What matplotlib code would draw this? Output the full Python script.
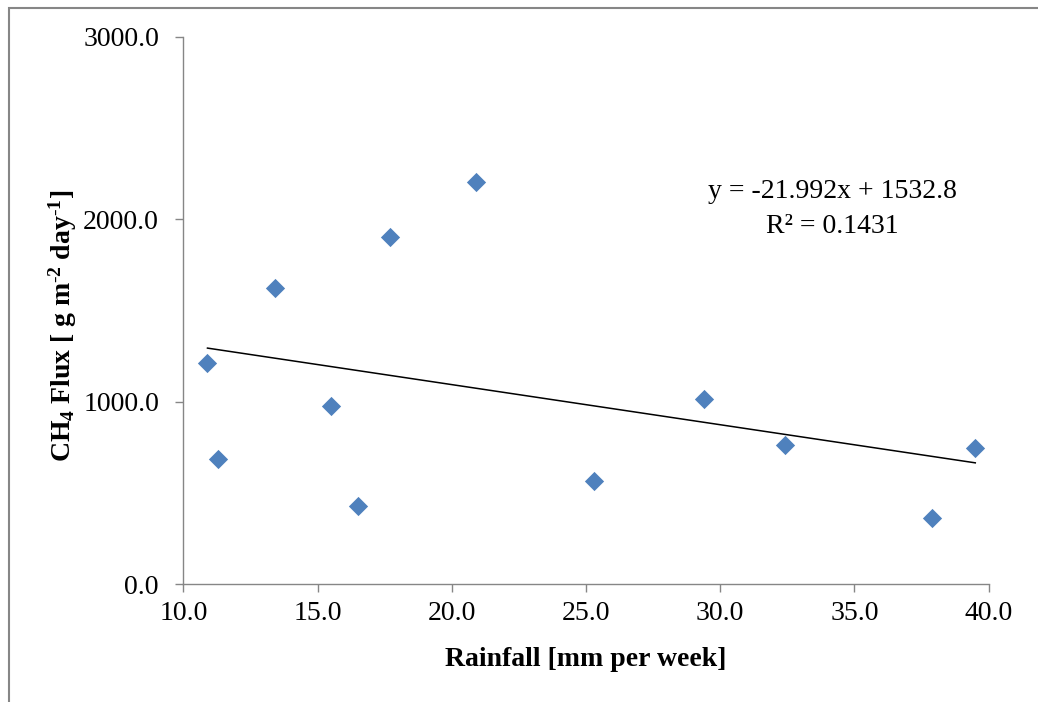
import matplotlib
matplotlib.use("Agg")
import matplotlib.pyplot as plt
import numpy as np
from matplotlib.patches import Rectangle

# datos
rainfall = [10.9, 11.3, 13.4, 15.5, 16.5, 17.7, 20.9, 25.3, 29.4, 32.4, 37.9, 39.5]
ch4_flux = [1210, 684, 1624, 976, 428, 1901, 2204, 565, 1013, 760, 360, 747]
slope = -21.992
intercept = 1532.8
r2 = 0.1431

x_ticks = [10.0, 15.0, 20.0, 25.0, 30.0, 35.0, 40.0]
y_ticks = [0.0, 1000.0, 2000.0, 3000.0]

W, H = 1038, 702
FS = 20
plt.rcParams['font.family'] = ['Liberation Serif', 'DejaVu Serif']
plt.rcParams['mathtext.fontset'] = 'custom'
plt.rcParams['mathtext.rm'] = 'Liberation Serif'
plt.rcParams['mathtext.bf'] = 'Liberation Serif:bold'
plt.rcParams['mathtext.it'] = 'Liberation Serif:italic'

fig = plt.figure(figsize=(W / 100, H / 100), dpi=100)
ax = fig.add_axes([183.3 / W, 1 - 584 / H, (988.7 - 183.3) / W, (584 - 36.7) / H])

gray = '#868686'
ax.scatter(rainfall, ch4_flux, marker='D', s=9.8 ** 2, color='#4F81BD', linewidths=0, zorder=3)

# linea de tendencia
xl = np.array([min(rainfall), max(rainfall)])
ax.plot(xl, slope * xl + intercept, color='black', lw=1.1, zorder=2)

ax.set_xlim(10, 40)
ax.set_ylim(0, 3000)
ax.set_xticks(x_ticks)
ax.set_yticks(y_ticks)
ax.set_xticklabels([f"{v:.1f}" for v in x_ticks])
ax.set_yticklabels([f"{v:.1f}" for v in y_ticks])
ax.tick_params(axis='both', direction='out', length=5.5, width=1.0, color=gray,
               labelsize=FS, labelcolor='black')
ax.tick_params(axis='x', pad=7)
ax.tick_params(axis='y', pad=12)

for side in ['top', 'right']:
    ax.spines[side].set_visible(False)
for side in ['left', 'bottom']:
    ax.spines[side].set_color(gray)
    ax.spines[side].set_linewidth(1.0)

fig.text(586 / W, 1 - 666 / H, 'Rainfall [mm per week]', ha='center', va='baseline',
         fontsize=FS, fontweight='bold')
fig.text(63 / W, 1 - 326 / H,
         r'$\mathbf{CH_4\ Flux\ [\ g\ m^{\text{-}2}\ day^{\text{-}1}]}$',
         ha='center', va='center', rotation=90, fontsize=FS)

fig.text(832 / W, 1 - 197.7 / H, 'y = -21.992x + 1532.8', ha='center', va='baseline', fontsize=FS)
fig.text(832 / W, 1 - 232.7 / H, f'R² = {r2}', ha='center', va='baseline', fontsize=FS)

# marco exterior
fig.add_artist(Rectangle((9 / W, -0.1), 1.2, (H - 8) / H + 0.1, transform=fig.transFigure,
                         fill=False, ec=gray, lw=1.5))

fig.savefig('out.png', dpi=100)
